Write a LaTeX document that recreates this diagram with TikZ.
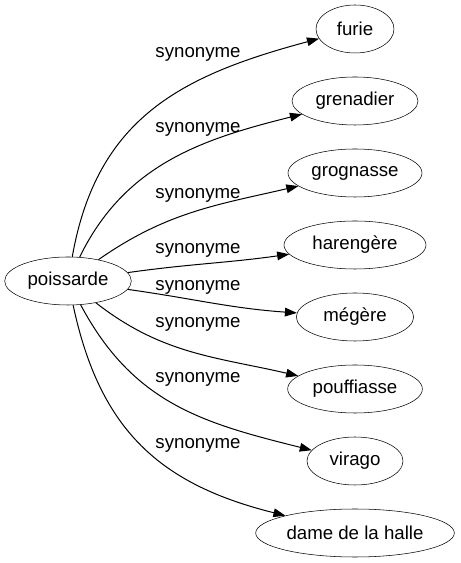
\documentclass[tikz,border=0pt]{standalone}
\usepackage{fontspec}
\setmainfont{Liberation Sans}
\usetikzlibrary{arrows.meta,shapes.geometric}
\begin{document}
\begin{tikzpicture}[x=0.75pt, y=0.75pt,
    word/.style={draw, ellipse, inner sep=0pt, minimum height=36pt, font=\fontsize{14pt}{16pt}\selectfont},
    syn/.style={font=\fontsize{14pt}{16pt}\selectfont, inner sep=0pt},
    link/.style={line width=0.75pt, -{Triangle[length=9pt, width=6.5pt]}},
    node distance=54pt]
                \useasboundingbox (0,0) rectangle (460,563);

                \node[word, minimum width=95pt] (P) at (68,282) {poissarde};

                \node[word, minimum width=58.5pt] (A) at (355,534) {furie};
                \node[word, minimum width=94.5pt, below of=A] (B) {grenadier};
                \node[word, minimum width=100.5pt, below of=B] (C) {grognasse};
                \node[word, minimum width=106.5pt, below of=C] (D) {harengère};
                \node[word, minimum width=88pt, below of=D] (E) {mégère};
                \node[word, minimum width=101pt, below of=E] (F) {pouffiasse};
                \node[word, minimum width=72pt, below of=F] (G) {virago};
                \node[word, minimum width=149pt, below of=G] (H) {dame de la halle};

                \node[syn] (LA) at (198,509) {synonyme};
                \node[syn] (LB) at (198,434) {synonyme};
                \node[syn] (LC) at (198,368) {synonyme};
                \node[syn] (LD) at (198,313) {synonyme};
                \node[syn] (LE) at (198,276) {synonyme};
                \node[syn] (LF) at (198,239) {synonyme};
                \node[syn] (LG) at (198,184) {synonyme};
                \node[syn] (LH) at (198,118) {synonyme};

                \draw[link] (P) to[out=80, in=195, looseness=1.1] (A);
                \draw[link] (P) to[out=64, in=194] (B);
                \draw[link] (P) to[out=35, in=193] (C);
                \draw[link] (P) to[out=8, in=188] (D);
                \draw[link] (P) to[out=-8, in=176] (E);
                \draw[link] (P) to[out=-38, in=167] (F);
                \draw[link] (P) to[out=-62, in=166, looseness=1.05] (G);
                \draw[link] (P) to[out=-78, in=166, looseness=1.1] (H);
            \end{tikzpicture}
\end{document}
